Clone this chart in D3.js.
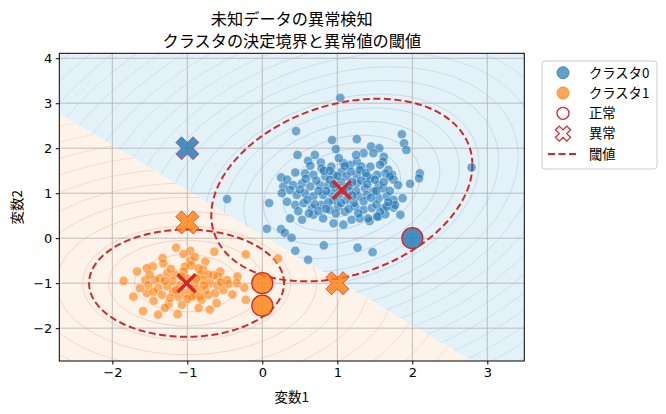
<!DOCTYPE html>
<html>
<head>
<meta charset="utf-8">
<script src="https://cdn.jsdelivr.net/npm/d3@7"></script>
<style>
  body { margin: 0; background: #fff; }
  text { font-family: "Noto Sans CJK JP", "DejaVu Sans", sans-serif; fill: #000; }
  .tick text { font-family: "DejaVu Sans", sans-serif; }
</style>
</head>
<body>
<svg id="chart" width="666" height="414"></svg>
<script>
// ---- data ----
const titleLines = ['未知データの異常検知', 'クラスタの決定境界と異常値の閾値']
const xTicks = [-2, -1, 0, 1, 2, 3]
const yTicks = [-2, -1, 0, 1, 2, 3, 4]
const clusterNames = ['クラスタ0', 'クラスタ1']

// cluster centres (red x)
const centers = [[1.06, 1.07], [-1.01, -1.0]]
// threshold ellipse shape: [sxx, sxy, syy] at the threshold distance
const thresholdCov = [[3.03, 0.974, 4.12], [1.69, 0, 1.42]]

const cluster0 = [
  [1.04,3.12],[0.45,2.38],[0.93,2.18],[1.26,2.2],[1.86,2.31],[1.89,2.11],[1.92,1.96],[0.98,1.98],
  [0.47,1.85],[2.79,1.57],[2.1,1.44],[2.09,1.33],[1.97,1.21],[1.87,0.89],[1.84,0.52],[0.09,0.78],
  [0.06,0.21],[0.25,0.2],[0.3,0.12],[0.39,0.01],[0.44,-0.28],[0.61,-0.48],[0.82,-0.16],[1.27,-0.21],
  [1.47,-0.31],[-0.47,0.87],[0.44,1.46],[0.25,1.35],[0.28,1.15],[1.45,2.04],[1.56,2.0],[1.62,1.81],
  [1.61,1.7],[1.68,1.52],[1.73,1.41],[1.75,1.3],[1.64,1.44],[0.61,1.72],[0.78,1.68],[0.64,1.61],
  [1.75,0.68],[1.62,0.67],[1.55,0.48],[1.43,0.38],[1.64,0.53],
  [1.35,1.89],[1.48,1.89],[0.79,1.55],[0.92,1.59],[1.08,1.67],[1.17,1.63],[1.26,1.7],[1.32,1.59],
  [1.44,1.59],[1.57,1.63],[0.57,1.44],[0.68,1.41],[0.84,1.37],[0.95,1.41],[1.06,1.48],[1.12,1.37],
  [1.26,1.41],[1.39,1.37],[1.53,1.41],[1.7,1.37],[1.81,1.18],[0.33,1.3],[0.41,1.18],[0.53,1.22],
  [0.64,1.15],[0.77,1.18],[0.88,1.18],[1.26,1.22],[1.37,1.11],[1.44,1.33],[1.55,1.18],[1.48,1.04],
  [1.61,1.11],[0.26,1.0],[0.37,1.07],[0.46,0.96],[0.57,1.0],[0.68,0.93],[0.81,0.96],[0.92,1.0],
  [1.28,0.93],[1.39,0.96],[1.55,0.89],[1.66,0.93],[1.75,0.85],[0.33,0.81],[0.44,0.74],[0.55,0.78],
  [0.66,0.67],[0.79,0.74],[0.9,0.63],[1.01,0.7],[1.1,0.59],[1.24,0.7],[1.35,0.63],[1.46,0.67],
  [1.57,0.59],[1.66,0.7],[1.77,0.74],[0.37,0.44],[0.53,0.41],[0.68,0.52],[0.81,0.44],[0.95,0.33],
  [1.08,0.3],[1.19,0.41],[1.3,0.44],[1.41,0.44],[1.53,0.48],
  [0.98,1.12],[1.02,0.95],[1.15,1.05],[1.2,1.25],[0.9,1.3],[1.05,1.25],[0.85,1.05],[1.12,0.85],
  [1.25,1.05],[0.95,0.85],[1.32,1.28],[1.18,1.48],[0.72,1.28],[0.75,1.05],[1.35,0.82],[1.05,0.78],
  [0.88,0.8],[1.22,0.78],[1.4,1.2],[0.6,0.85],[1.0,1.38],[0.82,1.5],[1.3,1.52],[1.15,1.15],
  [0.95,1.2],[1.08,1.05],[1.45,0.9],[0.7,0.75],[1.5,1.3],[0.58,1.32],[1.28,0.55],[0.98,0.55],
  [0.75,0.6],[1.2,0.95],[1.52,1.05],[0.5,1.08],[1.1,1.6],[0.9,1.5],[1.38,1.45],[0.85,0.65],
  [1.7,1.05],[1.62,1.25],[0.48,0.6],[1.02,1.78],[0.7,1.85],[1.25,1.85],[1.52,0.75],[1.68,0.8],
  [0.62,0.55],[1.15,0.65]
]

const cluster1 = [
  [-1.15,-0.21],[-0.96,-0.28],[-0.64,-0.3],[-0.22,-0.36],[-1.33,-0.44],[-1.46,-0.63],[-1.54,-0.67],
  [-1.32,-0.56],[-1.67,-0.74],[-0.96,-0.5],[-0.95,-0.6],[-0.76,-0.52],[-0.79,-0.7],[-0.56,-0.74],
  [-0.59,-0.85],[-0.65,-0.82],[-0.47,-0.93],[-0.33,-0.85],[-0.24,-1.1],[-0.22,-1.37],[-1.59,-1.62],
  [-1.39,-1.7],[-1.13,-1.69],[-1.45,-1.39],[-1.25,-1.47],[-1.54,-1.22],[-0.7,-1.59],[-0.61,-1.44],
  [-0.81,-1.37],[-0.92,-1.26],[-1.07,-1.48],[-1.56,-0.93],[-1.52,-1.04],[0.21,-0.45],
  [-1.03,-0.63],[-1.05,-0.74],[-1.16,-0.81],[-1.27,-0.78],[-1.36,-0.89],[-1.43,-0.93],[-1.5,-0.81],
  [-0.85,-0.67],[-0.83,-0.81],[-0.72,-0.81],[-0.79,-0.93],[-0.7,-1.0],[-0.76,-1.15],[-0.87,-1.15],
  [-0.94,-1.3],[-0.83,-1.3],[-0.72,-1.26],[-0.63,-1.22],[-1.27,-1.07],[-1.39,-1.11],[-1.19,-1.19],
  [-1.34,-1.26],[-1.45,-1.19],[-1.23,-1.33],[-1.12,-1.3],[-1.03,-1.22],[-0.52,-1.15],[-0.45,-1.02],
  [-0.34,-1.0],[-1.63,-1.11],[-1.72,-1.3],
  [-1.0,-0.9],[-0.9,-1.0],[-1.1,-1.05],[-1.2,-0.95],[-0.95,-1.12],[-1.08,-0.85],[-0.88,-0.9],
  [-1.15,-1.15],[-0.6,-1.05],[-1.3,-0.95],[-0.78,-1.05],[-1.0,-1.35],[-0.55,-0.98],[-1.22,-0.68],
  [-0.9,-0.42],[-1.05,-0.35],[-1.85,-0.95],[-0.4,-1.25],[-0.85,-1.55],[-1.3,-1.55]
]

// new observations
const normalPts = [[2.0, 0.0], [0.0, -1.0], [0.0, -1.5]]
const anomalyPts = [[-1.0, 2.0], [-1.0, 0.35], [1.0, -1.0]]

const colors = ['#1f77b4', '#ff7f0e']
const bgColors = ['#e3f1f8', '#fef3e8']
const ringColor = ['#86aecb', '#ee9c90']
const red = '#d62728'

// ---- layout ----
const svg = d3.select('#chart')
const plot = {l: 59.3, r: 524.3, t: 53.3, b: 361}
const x = d3.scaleLinear([-2.707, 3.493], [plot.l, plot.r])
const y = d3.scaleLinear([-2.73, 4.11], [plot.b, plot.t])
const [x0, x1] = x.domain(), [y0, y1] = y.domain()

svg.append('clipPath').attr('id', 'clip')
  .append('rect').attr('x', plot.l).attr('y', plot.t)
  .attr('width', plot.r - plot.l).attr('height', plot.b - plot.t)

const g = svg.append('g').attr('clip-path', 'url(#clip)')

// nearest centre decides the cluster
const assign = p => d3.minIndex(centers, c => (p[0]-c[0])**2 + (p[1]-c[1])**2)

// decision regions: the plot rectangle cut by the bisector of the centres
const mid = [(centers[0][0]+centers[1][0])/2, (centers[0][1]+centers[1][1])/2]
const nrm = [centers[0][0]-centers[1][0], centers[0][1]-centers[1][1]]
function clipHalf(poly, sgn){
  const side = p => sgn*((p[0]-mid[0])*nrm[0] + (p[1]-mid[1])*nrm[1])
  const out = []
  poly.forEach((a, i) => {
    const b = poly[(i+1) % poly.length], sa = side(a), sb = side(b)
    if (sa >= 0) out.push(a)
    if ((sa < 0) !== (sb < 0)) {
      const t = sa / (sa - sb)
      out.push([a[0] + t*(b[0]-a[0]), a[1] + t*(b[1]-a[1])])
    }
  })
  return out
}
const rectPoly = [[x0, y0], [x1, y0], [x1, y1], [x0, y1]]
const regions = [clipHalf(rectPoly, 1), clipHalf(rectPoly, -1)]
const line = d3.line().x(d => x(d[0])).y(d => y(d[1]))

regions.forEach((r, ci) => {
  g.append('path').attr('d', line(r) + 'Z').attr('fill', bgColors[ci])
  svg.append('clipPath').attr('id', 'region' + ci)
    .append('path').attr('d', line(r) + 'Z')
})

// ellipses from the threshold shape
function ellipse(c, cov, s){
  const l11 = Math.sqrt(cov[0]), l21 = cov[1]/l11, l22 = Math.sqrt(cov[2] - l21*l21)
  return d3.range(0, 180).map(i => {
    const t = i/180 * 2*Math.PI
    return [c[0] + s*l11*Math.cos(t), c[1] + s*(l21*Math.cos(t) + l22*Math.sin(t))]
  })
}
const closed = d3.line().x(d => x(d[0])).y(d => y(d[1])).curve(d3.curveLinearClosed)

// faint density rings, each inside its own region
const ringStep = [0.45, 0.8]
const ringCount = [22, 14]
centers.forEach((c, ci) => {
  const rg = g.append('g').attr('clip-path', `url(#region${ci})`)
  d3.range(1, ringCount[ci] + 1).forEach(k => {
    rg.append('path')
      .attr('d', closed(ellipse(c, thresholdCov[ci], k*ringStep[ci]/3)))
      .attr('fill', 'none')
      .attr('stroke', ringColor[ci])
      .attr('stroke-width', 0.7)
      .attr('opacity', Math.max(0.3, 0.65 - k*0.03))
  })
})

// grid
g.append('g').selectAll('line').data(xTicks).join('line')
  .attr('x1', d => x(d)).attr('x2', d => x(d)).attr('y1', plot.t).attr('y2', plot.b)
  .attr('stroke', '#b0b0b0').attr('stroke-width', 0.8)
g.append('g').selectAll('line').data(yTicks).join('line')
  .attr('y1', d => y(d)).attr('y2', d => y(d)).attr('x1', plot.l).attr('x2', plot.r)
  .attr('stroke', '#b0b0b0').attr('stroke-width', 0.8)

// threshold ellipses
centers.forEach((c, ci) => {
  g.append('path').attr('d', closed(ellipse(c, thresholdCov[ci], 1)))
    .attr('fill', 'none').attr('stroke', red).attr('stroke-width', 2)
    .attr('stroke-dasharray', '7,3.5')
})

// training points
;[cluster0, cluster1].forEach((pts, ci) => {
  g.append('g').selectAll('circle').data(pts).join('circle')
    .attr('cx', d => x(d[0])).attr('cy', d => y(d[1])).attr('r', 4.6)
    .attr('fill', colors[ci]).attr('fill-opacity', 0.6)
    .attr('stroke', '#fff').attr('stroke-width', 0.5).attr('stroke-opacity', 0.8)
})

// matplotlib style filled X marker
const xShape = [[-1,-2],[0,-1],[1,-2],[2,-1],[1,0],[2,1],[1,2],[0,1],[-1,2],[-2,1],[-1,0],[-2,-1]]
const xMarker = size => 'M' + xShape.map(p => [p[0]/4*size, p[1]/4*size].join(',')).join('L') + 'Z'

g.append('g').selectAll('circle').data(normalPts).join('circle')
  .attr('cx', d => x(d[0])).attr('cy', d => y(d[1])).attr('r', 10.5)
  .attr('fill', d => colors[assign(d)]).attr('fill-opacity', 0.8)
  .attr('stroke', red).attr('stroke-width', 1.3)

g.append('g').selectAll('path').data(anomalyPts).join('path')
  .attr('d', xMarker(23))
  .attr('transform', d => `translate(${x(d[0])},${y(d[1])})`)
  .attr('fill', d => colors[assign(d)]).attr('fill-opacity', 0.8)
  .attr('stroke', red).attr('stroke-width', 1).attr('stroke-opacity', 0.7)

// centres
g.append('g').selectAll('path').data(centers).join('path')
  .attr('d', 'M-9,-9L9,9M-9,9L9,-9')
  .attr('transform', d => `translate(${x(d[0])},${y(d[1])})`)
  .attr('stroke', red).attr('stroke-width', 3.5).attr('fill', 'none')

// frame
svg.append('rect').attr('x', plot.l).attr('y', plot.t)
  .attr('width', plot.r - plot.l).attr('height', plot.b - plot.t)
  .attr('fill', 'none').attr('stroke', '#000').attr('stroke-width', 1)

// axes
const fmt = d => d < 0 ? '\u2212' + Math.abs(d) : d
svg.append('g').attr('transform', `translate(0,${plot.b})`)
  .call(d3.axisBottom(x).tickValues(xTicks).tickFormat(fmt).tickSize(3.5).tickPadding(3.5))
  .call(a => a.select('.domain').remove())
  .call(a => a.selectAll('text').attr('font-size', 13))
svg.append('g').attr('transform', `translate(${plot.l},0)`)
  .call(d3.axisLeft(y).tickValues(yTicks).tickFormat(fmt).tickSize(3.5).tickPadding(3.5))
  .call(a => a.select('.domain').remove())
  .call(a => a.selectAll('text').attr('font-size', 13))

svg.append('text').attr('x', (plot.l + plot.r)/2).attr('y', 402)
  .attr('text-anchor', 'middle').attr('font-size', 13.5).text('変数1')
svg.append('text').attr('transform', `translate(22,${(plot.t + plot.b)/2}) rotate(-90)`)
  .attr('text-anchor', 'middle').attr('font-size', 13.5).text('変数2')

svg.selectAll('.title').data(titleLines).join('text').attr('class', 'title')
  .attr('x', (plot.l + plot.r)/2).attr('y', (d, i) => 24.5 + i*22)
  .attr('text-anchor', 'middle').attr('font-size', 16.2).text(d => d)

// legend
const lg = svg.append('g').attr('transform', 'translate(542,61)')
lg.append('rect').attr('width', 115).attr('height', 108).attr('rx', 3)
  .attr('fill', '#fff').attr('fill-opacity', 0.85).attr('stroke', '#cccccc')
const items = [
  {label: clusterNames[0], type: 'dot', color: colors[0]},
  {label: clusterNames[1], type: 'dot', color: colors[1]},
  {label: '正常', type: 'ring'},
  {label: '異常', type: 'cross'},
  {label: '閾値', type: 'dash'}
]
const row = lg.selectAll('g.item').data(items).join('g').attr('class', 'item')
  .attr('transform', (d, i) => `translate(0,${11.7 + i*20.3})`)
row.each(function(d){
  const s = d3.select(this)
  if (d.type === 'dot') s.append('circle').attr('cx', 21).attr('r', 6)
    .attr('fill', d.color).attr('fill-opacity', 0.7).attr('stroke', d.color).attr('stroke-width', 0.8)
  if (d.type === 'ring') s.append('circle').attr('cx', 21).attr('r', 6)
    .attr('fill', 'none').attr('stroke', red).attr('stroke-width', 1.3)
  if (d.type === 'cross') s.append('path').attr('d', xMarker(15))
    .attr('transform', 'translate(21,0)')
    .attr('fill', 'none').attr('stroke', red).attr('stroke-width', 1.3)
  if (d.type === 'dash') s.append('line').attr('x1', 6).attr('x2', 35)
    .attr('stroke', red).attr('stroke-width', 2).attr('stroke-dasharray', '7,3.5')
  s.append('text').attr('x', 47).attr('y', 4.8).attr('font-size', 13.3).text(d.label)
})
</script>
</body>
</html>
